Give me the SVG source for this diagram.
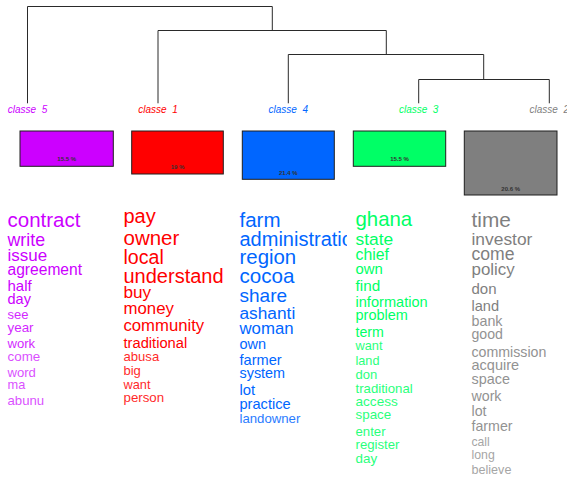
<svg xmlns="http://www.w3.org/2000/svg" width="567" height="478" viewBox="0 0 567 478">
  <style>
    .tree line { stroke: #2a2a2a; stroke-width: 1; }
    .lbl { font-family: "Liberation Sans", Arial, sans-serif; font-style: italic; font-size: 10px; text-anchor: middle; white-space: pre; }
    .box rect { stroke: #1e1e1e; stroke-width: 1; }
    .pct { font-family: "Liberation Sans", Arial, sans-serif; font-size: 6px; font-weight: bold; fill: #333; text-anchor: middle; }
    .w text { font-family: "Liberation Sans", Arial, sans-serif; }
    .c5 { fill: #CC00FF; }
    .c1 { fill: #FF0000; }
    .c4 { fill: #0066FF; }
    .c3 { fill: #00FF66; }
    .c2 { fill: #7F7F7F; }
    .a { opacity: 0.85; }
    .b { opacity: 0.7; }
  </style>
  <defs>
    <clipPath id="clip4"><rect x="230" y="200" width="117" height="240"/></clipPath>
  </defs>

  <!-- dendrogram -->
  <g id="connectors" class="tree">
    <line x1="27.5" y1="6.5" x2="272.3" y2="6.5"/>
    <line x1="27.5" y1="6.5" x2="27.5" y2="103.3"/>
    <line x1="272.3" y1="6.5" x2="272.3" y2="30.5"/>
    <line x1="158" y1="30.5" x2="386.3" y2="30.5"/>
    <line x1="158" y1="30.5" x2="158" y2="103.3"/>
    <line x1="386.3" y1="30.5" x2="386.3" y2="54.5"/>
    <line x1="288.3" y1="54.5" x2="483.7" y2="54.5"/>
    <line x1="288.3" y1="54.5" x2="288.3" y2="103.3"/>
    <line x1="483.7" y1="54.5" x2="483.7" y2="79.5"/>
    <line x1="418.7" y1="79.5" x2="549.3" y2="79.5"/>
    <line x1="418.7" y1="79.5" x2="418.7" y2="103.3"/>
    <line x1="549.3" y1="79.5" x2="549.3" y2="103.3"/>
  </g>

  <!-- class 5 -->
  <g id="classe5">
    <text class="lbl c5" x="27.5" y="112.5">classe  5</text>
    <g class="box"><rect class="c5" x="20" y="131" width="93.3" height="35.3"/></g>
    <text class="pct" x="66.7" y="161">15.5 %</text>
    <g class="w c5">
      <text x="7.5" y="226.5" font-size="20.5">contract</text>
      <text x="7.5" y="245.5" font-size="17.8">write</text>
      <text x="7.5" y="260.5" font-size="17">issue</text>
      <text x="7.5" y="274.5" font-size="15.6">agreement</text>
      <text x="7.5" y="290.5" font-size="15">half</text>
      <text x="7.5" y="304" font-size="14.5">day</text>
      <text class="a" x="7.5" y="318.5" font-size="13">see</text>
      <text class="a" x="7.5" y="331.5" font-size="13.4">year</text>
      <text class="a" x="7.5" y="347.5" font-size="13.1">work</text>
      <text class="b" x="7.5" y="361" font-size="13.4">come</text>
      <text class="b" x="7.5" y="377" font-size="13.1">word</text>
      <text class="b" x="7.5" y="389" font-size="12.8">ma</text>
      <text class="b" x="7.5" y="405" font-size="13.2">abunu</text>
    </g>
  </g>

  <!-- class 1 -->
  <g id="classe1">
    <text class="lbl c1" x="158" y="112.5">classe  1</text>
    <g class="box"><rect class="c1" x="131.7" y="131" width="91.6" height="43"/></g>
    <text class="pct" x="177.5" y="168.5">19 %</text>
    <g class="w c1">
      <text x="123.5" y="222.5" font-size="20">pay</text>
      <text x="123.5" y="244.5" font-size="20.5">owner</text>
      <text x="123.5" y="264" font-size="19.6">local</text>
      <text x="123.5" y="282.5" font-size="20">understand</text>
      <text x="123.5" y="297.5" font-size="17.2">buy</text>
      <text x="123.5" y="313.5" font-size="16.8">money</text>
      <text x="123.5" y="330.5" font-size="16.7">community</text>
      <text x="123.5" y="347.5" font-size="14.7">traditional</text>
      <text class="a" x="123.5" y="360.5" font-size="13.1">abusa</text>
      <text class="a" x="123.5" y="374.5" font-size="13">big</text>
      <text class="a" x="123.5" y="389" font-size="12.8">want</text>
      <text class="a" x="123.5" y="401.5" font-size="13.3">person</text>
    </g>
  </g>

  <!-- class 4 -->
  <g id="classe4">
    <text class="lbl c4" x="288.3" y="112.5">classe  4</text>
    <g class="box"><rect class="c4" x="242.3" y="131" width="92" height="48.3"/></g>
    <text class="pct" x="288.3" y="174.5">21.4 %</text>
    <g class="w c4" clip-path="url(#clip4)">
      <text x="239.5" y="226.5" font-size="20.5">farm</text>
      <text x="239.5" y="245.5" font-size="20">administration</text>
      <text x="239.5" y="263.5" font-size="20.4">region</text>
      <text x="239.5" y="282.5" font-size="20.6">cocoa</text>
      <text x="239.5" y="301.5" font-size="19">share</text>
      <text x="239.5" y="318.5" font-size="17.3">ashanti</text>
      <text x="239.5" y="333.5" font-size="16.8">woman</text>
      <text x="239.5" y="348.5" font-size="14.5">own</text>
      <text x="239.5" y="365" font-size="14.6">farmer</text>
      <text x="239.5" y="377.5" font-size="14.4">system</text>
      <text x="239.5" y="395" font-size="14.8">lot</text>
      <text x="239.5" y="408.5" font-size="14.6">practice</text>
      <text class="a" x="239.5" y="422.5" font-size="13.2">landowner</text>
    </g>
  </g>

  <!-- class 3 -->
  <g id="classe3">
    <text class="lbl c3" x="418.7" y="112.5">classe  3</text>
    <g class="box"><rect class="c3" x="353.3" y="131" width="92.4" height="35.3"/></g>
    <text class="pct" x="399.5" y="161">15.5 %</text>
    <g class="w c3">
      <text x="355.5" y="225.5" font-size="20.4">ghana</text>
      <text x="355.5" y="244.5" font-size="17.4">state</text>
      <text x="355.5" y="259.5" font-size="15.8">chief</text>
      <text x="355.5" y="274" font-size="14.9">own</text>
      <text x="355.5" y="291" font-size="15.3">find</text>
      <text x="355.5" y="306.5" font-size="14.6">information</text>
      <text x="355.5" y="319.5" font-size="14.5">problem</text>
      <text x="355.5" y="336.5" font-size="14.2">term</text>
      <text class="a" x="355.5" y="350" font-size="12.8">want</text>
      <text class="a" x="355.5" y="364.5" font-size="12.7">land</text>
      <text class="a" x="355.5" y="379" font-size="13">don</text>
      <text class="a" x="355.5" y="392.5" font-size="13.2">traditional</text>
      <text class="a" x="355.5" y="406" font-size="13.6">access</text>
      <text class="a" x="355.5" y="418.5" font-size="13.4">space</text>
      <text class="a" x="355.5" y="436" font-size="13.2">enter</text>
      <text class="a" x="355.5" y="448.5" font-size="13.2">register</text>
      <text class="a" x="355.5" y="462.5" font-size="13.4">day</text>
    </g>
  </g>

  <!-- class 2 -->
  <g id="classe2">
    <text class="lbl c2" x="549.3" y="112.5">classe  2</text>
    <g class="box"><rect class="c2" x="464.3" y="131" width="92.7" height="64"/></g>
    <text class="pct" x="510.7" y="190.5">20.6 %</text>
    <g class="w c2">
      <text x="471.5" y="226.5" font-size="20.8">time</text>
      <text x="471.5" y="244.5" font-size="17.4">investor</text>
      <text x="471.5" y="260" font-size="17.6">come</text>
      <text x="471.5" y="275" font-size="16.9">policy</text>
      <text x="471.5" y="294" font-size="15">don</text>
      <text x="471.5" y="311" font-size="14.6">land</text>
      <text class="a" x="471.5" y="326" font-size="14.3">bank</text>
      <text class="a" x="471.5" y="339" font-size="14.1">good</text>
      <text class="a" x="471.5" y="356.5" font-size="14.2">commission</text>
      <text class="a" x="471.5" y="370" font-size="14.5">acquire</text>
      <text class="a" x="471.5" y="384" font-size="14.4">space</text>
      <text class="a" x="471.5" y="401" font-size="14.2">work</text>
      <text class="a" x="471.5" y="416" font-size="14.2">lot</text>
      <text class="a" x="471.5" y="430.5" font-size="14.2">farmer</text>
      <text class="b" x="471.5" y="446" font-size="12.2">call</text>
      <text class="b" x="471.5" y="458.5" font-size="12.3">long</text>
      <text class="b" x="471.5" y="473.5" font-size="12.6">believe</text>
    </g>
  </g>
</svg>
